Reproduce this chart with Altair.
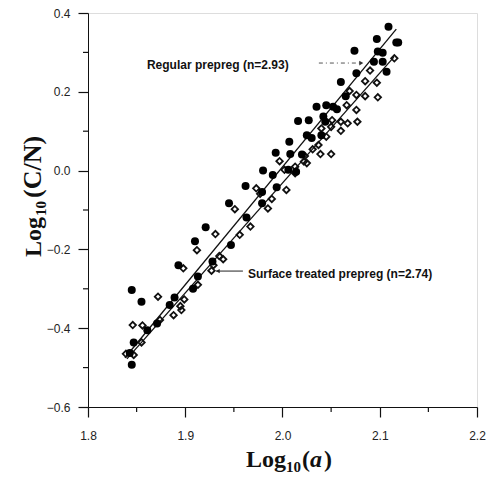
import altair as alt
import pandas as pd

# Regular prepreg (filled circles)
reg_x = [1.845, 1.843, 1.847, 1.845, 1.855, 1.861, 1.871, 1.884, 1.889, 1.893,
         1.908, 1.913, 1.910, 1.921, 1.928, 1.945, 1.947, 1.962, 1.963, 1.979,
         1.980, 1.990, 1.994, 1.993, 1.979, 2.006, 2.008, 2.007, 2.014, 2.016,
         2.020, 2.025, 2.027, 2.030, 2.035, 2.042, 2.044, 2.045, 2.052, 2.056,
         2.060, 2.065, 2.074, 2.076, 2.094, 2.097, 2.098, 2.103, 2.103, 2.107,
         2.109, 2.117, 2.119, 2.040]
reg_y = [-0.493, -0.463, -0.436, -0.303, -0.333, -0.405, -0.388, -0.341, -0.322, -0.240,
         -0.300, -0.269, -0.179, -0.144, -0.231, -0.083, -0.189, -0.039, -0.119, -0.083,
         0.000, -0.011, -0.042, 0.045, -0.054, 0.002, 0.042, 0.073, -0.003, 0.126,
         0.041, 0.090, 0.128, 0.083, 0.162, 0.137, 0.124, 0.166, 0.162, 0.156,
         0.225, 0.189, 0.304, 0.247, 0.276, 0.334, 0.302, 0.299, 0.276, 0.251,
         0.365, 0.325, 0.325, 0.090]

# Surface treated prepreg (open diamonds)
sur_x = [1.839, 1.847, 1.846, 1.856, 1.855, 1.872, 1.874, 1.888, 1.895, 1.899,
         1.896, 1.898, 1.912, 1.913, 1.927, 1.929, 1.931, 1.935, 1.939, 1.951,
         1.956, 1.967, 1.977, 1.985, 1.989, 1.973, 1.997, 2.002, 2.004, 2.013,
         2.013, 2.022, 2.023, 2.025, 2.031, 2.037, 2.039, 2.045, 2.040, 2.050,
         2.050, 2.060, 2.067, 2.060, 2.051, 2.077, 2.066, 2.076, 2.069, 2.076,
         2.085, 2.098, 2.085, 2.097, 2.090, 2.115]
sur_y = [-0.465, -0.468, -0.392, -0.393, -0.436, -0.320, -0.379, -0.367, -0.344, -0.327,
         -0.354, -0.248, -0.202, -0.290, -0.254, -0.240, -0.161, -0.217, -0.225, -0.098,
         -0.163, -0.142, -0.059, -0.096, -0.072, -0.045, 0.024, 0.002, -0.049, -0.007,
         0.010, 0.023, 0.037, 0.019, 0.054, 0.065, 0.042, 0.086, 0.107, 0.111,
         0.042, 0.124, 0.120, 0.101, 0.128, 0.124, 0.166, 0.154, 0.202, 0.192,
         0.189, 0.186, 0.227, 0.223, 0.254, 0.285]

# Fitted lines (end points)
reg_line_x = [1.838, 2.117]
reg_line_y = [-0.475, 0.359]
sur_line_x = [1.840, 2.1145]
sur_line_y = [-0.478, 0.288]

x_major = [1.8, 1.9, 2.0, 2.1, 2.2]
x_minor = [1.85, 1.95, 2.05, 2.15]
y_major = [-0.6, -0.4, -0.2, 0.0, 0.2, 0.4]
y_minor = [-0.5, -0.3, -0.1, 0.1, 0.3]

reg_label = "Regular prepreg (n=2.93)"
sur_label = "Surface treated prepreg (n=2.74)"

W, H = 389, 394

df_reg = pd.DataFrame({"x": reg_x, "y": reg_y})
df_sur = pd.DataFrame({"x": sur_x, "y": sur_y})
df_rl = pd.DataFrame({"x": reg_line_x, "y": reg_line_y})
df_sl = pd.DataFrame({"x": sur_line_x, "y": sur_line_y})

xs = alt.Scale(domain=[1.8, 2.2], nice=False, zero=False)
ys = alt.Scale(domain=[-0.6, 0.4], nice=False, zero=False)

xaxis = alt.Axis(
    values=x_major, grid=False, domainColor="#111", tickColor="#111", tickSize=10,
    tickWidth=1.2,
    format=".1f", labelFont="Liberation Sans", labelFontSize=12, labelColor="#222",
    labelPadding=13, labelFlush=False, title=None,
)
yaxis = alt.Axis(
    values=y_major, grid=False, domainColor="#111", tickColor="#111", tickSize=10,
    tickWidth=1.2,
    format=".1f", labelFont="Liberation Sans", labelFontSize=12, labelColor="#222",
    labelPadding=8, labelFlush=False, title=None,
)

reg_line = alt.Chart(df_rl).mark_line(color="#111", strokeWidth=1.3).encode(
    x=alt.X("x:Q", scale=xs, axis=xaxis), y=alt.Y("y:Q", scale=ys, axis=yaxis))
sur_line = alt.Chart(df_sl).mark_line(color="#111", strokeWidth=1.3).encode(x="x:Q", y="y:Q")

sur_pts = alt.Chart(df_sur).mark_point(
    shape="diamond", filled=False, color="#111", strokeWidth=1.8, size=42, opacity=1
).encode(x="x:Q", y="y:Q")
reg_pts = alt.Chart(df_reg).mark_circle(color="#000", size=64, opacity=1).encode(x="x:Q", y="y:Q")

# minor ticks
x_minor_ticks = alt.Chart(pd.DataFrame({"x": x_minor})).mark_rule(color="#111", strokeWidth=1.2).encode(
    x="x:Q", y=alt.value(H), y2=alt.value(H + 5))
y_minor_ticks = alt.Chart(pd.DataFrame({"y": y_minor})).mark_rule(color="#111", strokeWidth=1.2).encode(
    y="y:Q", x=alt.value(0), x2=alt.value(-5))

# annotations
ann_reg_line = alt.Chart(pd.DataFrame({"x": [2.0374, 2.080], "y": [0.273, 0.273]})).mark_line(
    color="#555", strokeWidth=1, strokeDash=[4, 3, 1, 3]).encode(x="x:Q", y="y:Q")
ann_reg_head = alt.Chart(pd.DataFrame({"x": [2.081], "y": [0.273]})).mark_point(
    shape="triangle-right", filled=True, color="#333", size=22, opacity=1).encode(x="x:Q", y="y:Q")
ann_reg_text = alt.Chart(pd.DataFrame({"x": [1.8606], "y": [0.268], "t": [reg_label]})).mark_text(
    align="left", baseline="middle", font="Liberation Sans", fontSize=12, fontWeight="bold",
    color="#111").encode(x="x:Q", y="y:Q", text="t:N")

ann_sur_line = alt.Chart(pd.DataFrame({"x": [1.9316, 1.9593], "y": [-0.255, -0.255]})).mark_line(
    color="#222", strokeWidth=1).encode(x="x:Q", y="y:Q")
ann_sur_head = alt.Chart(pd.DataFrame({"x": [1.9335], "y": [-0.255]})).mark_point(
    shape="triangle-left", filled=True, color="#222", size=18, opacity=1).encode(x="x:Q", y="y:Q")
ann_sur_text = alt.Chart(pd.DataFrame({"x": [1.9644], "y": [-0.2624], "t": [sur_label]})).mark_text(
    align="left", baseline="middle", font="Liberation Sans", fontSize=12, fontWeight="bold",
    color="#111").encode(x="x:Q", y="y:Q", text="t:N")


# axis titles built from pieces (subscript and italic parts)
def title_piece(text, px, py, size, style="normal", angle=0):
    return alt.Chart(pd.DataFrame({"t": [text]})).mark_text(
        align="left", baseline="alphabetic", font="Liberation Serif", fontSize=size,
        fontWeight="bold", fontStyle=style, color="#111", angle=angle,
    ).encode(x=alt.value(px), y=alt.value(py), text="t:N")


xt = [
    title_piece("Log", 158, 454, 24),
    title_piece("10", 198, 459, 15),
    title_piece("(", 214, 454, 24),
    title_piece("a", 222, 454, 24, style="italic"),
    title_piece(")", 236, 454, 24),
]
yt = [
    title_piece("Log", -47, 244, 24, angle=270),
    title_piece("10", -42, 203, 15, angle=270),
    title_piece("(C/N)", -47, 185, 26, angle=270),
]

chart = alt.layer(
    reg_line, sur_line, sur_pts, reg_pts, x_minor_ticks, y_minor_ticks,
    ann_reg_line, ann_reg_head, ann_reg_text,
    ann_sur_line, ann_sur_head, ann_sur_text, *xt, *yt,
).properties(
    width=W, height=H,
    autosize=alt.AutoSizeParams(type="none"),
    padding={"left": 80, "top": 5, "right": 14, "bottom": 73},
).configure_view(
    stroke="#333", strokeWidth=1
).configure(background="white")

chart.save("out.html", embed_options={"renderer": "svg", "actions": False})
